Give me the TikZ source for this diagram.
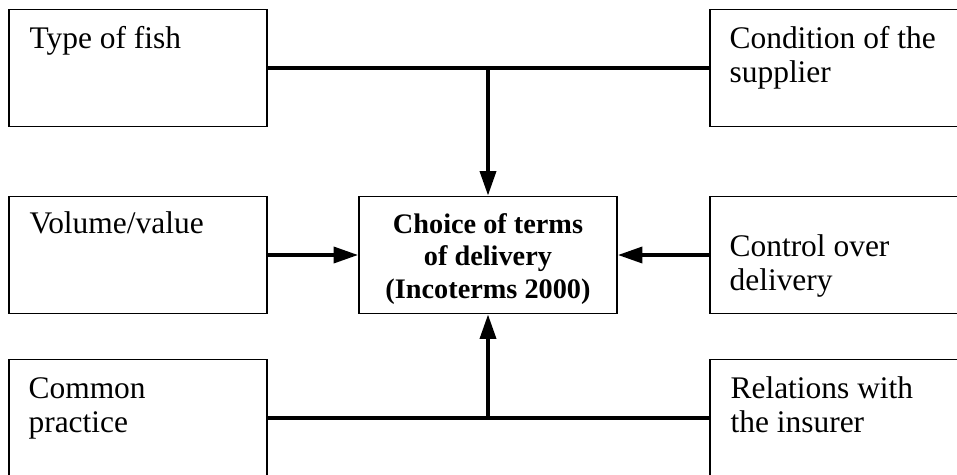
\documentclass[tikz,border=0pt]{standalone}
\usepackage{fontspec}
\setmainfont{Liberation Serif}
\usetikzlibrary{arrows.meta}

\begin{document}
\begin{tikzpicture}[x=0.02cm,y=-0.02cm,
  box/.style={draw,line width=0.9pt,minimum width=5.16cm,minimum height=2.34cm,inner sep=0},
  txt/.style={anchor=base west,align=left,inner sep=0,font=\fontsize{17.9}{19.4}\selectfont},
  conn/.style={line width=2.3pt},
  arr/.style={conn,-{Triangle[length=14pt,width=9pt]}}]
\clip (0,0) rectangle (957,474);

% boxes
\node[box] (fish) at (138,68) {};
\node[box] (supplier) at (839,68) {};
\node[box] (volume) at (138,255) {};
\node[box] (choice) at (488,255) {};
\node[box] (control) at (839,255) {};
\node[box] (practice) at (138,418) {};
\node[box] (insurer) at (839,418) {};

% texts (base = last line)
\node[txt] at ([shift={(21,40)}]fish.north west) {Type of fish};
\node[txt] at ([shift={(20,74)}]supplier.north west) {Condition of the\\supplier};
\node[txt] at ([shift={(21,38)}]volume.north west) {Volume/value};
\node[txt] at ([shift={(20,95)}]control.north west) {Control over\\delivery};
\node[txt] at ([shift={(20,74)}]practice.north west) {Common\\practice};
\node[txt] at ([shift={(21,74)}]insurer.north west) {Relations with\\the insurer};
\node[align=center,inner sep=0,font=\bfseries\fontsize{16.1}{18.3}\selectfont] (choicetxt)
  at ([yshift=-2.3pt]choice.center) {Choice of terms\\of delivery\\(Incoterms 2000)};

% connectors
\coordinate (top) at (fish.east -| choice.north);
\coordinate (bot) at (practice.east -| choice.south);
\draw[conn] (fish.east) -- (supplier.west);
\draw[arr] (top) -- (choice.north);
\draw[conn] (practice.east) -- (insurer.west);
\draw[arr] (bot) -- (choice.south);
\draw[arr] (volume.east) -- (choice.west);
\draw[arr] (control.west) -- (choice.east);
\end{tikzpicture}
\end{document}
